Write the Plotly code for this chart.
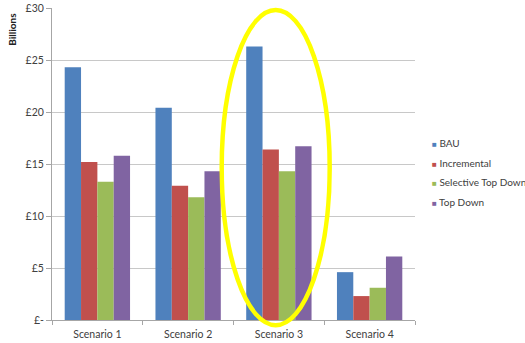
import plotly.graph_objects as go

scenarios = ["Scenario 1", "Scenario 2", "Scenario 3", "Scenario 4"]
bau = [24.3, 20.4, 26.3, 4.6]
incremental = [15.2, 12.9, 16.4, 2.3]
selective_top_down = [13.3, 11.8, 14.3, 3.1]
top_down = [15.8, 14.3, 16.7, 6.1]

tick_vals = [0, 5, 10, 15, 20, 25, 30]
tick_text = ["£-", "£5", "£10", "£15", "£20", "£25", "£30"]

series = [
    ("BAU", bau, "#4F81BD"),
    ("Incremental", incremental, "#C0504D"),
    ("Selective Top Down", selective_top_down, "#9BBB59"),
    ("Top Down", top_down, "#8064A2"),
]

fig = go.Figure()
for name, vals, color in series:
    fig.add_trace(go.Bar(x=scenarios, y=vals, name=name, marker_color=color,
                         marker_line_width=0, showlegend=False))

W, H = 525, 343
ml, mr, mt, mb = 52, 110, 8, 23
ph = H - mt - mb
fig.update_layout(
    width=W, height=H,
    margin=dict(l=ml, r=mr, t=mt, b=mb, pad=0, autoexpand=False),
    paper_bgcolor="white", plot_bgcolor="white",
    barmode="group", bargap=0.28, bargroupgap=0,
    font=dict(family="Lato, Open Sans, sans-serif", size=10.5, color="#404040"),
    showlegend=False,
)
fig.update_xaxes(
    showline=True, linecolor="#A6A6A6", linewidth=1,
    ticks="outside", tickson="boundaries", ticklen=4, tickcolor="#A6A6A6",
    showgrid=False, tickfont=dict(size=10.5), ticklabelstandoff=4,
)
fig.update_yaxes(
    range=[0, 30], tickvals=tick_vals, ticktext=tick_text,
    showline=True, linecolor="#A6A6A6", linewidth=1,
    ticks="outside", ticklen=5, tickcolor="#A6A6A6",
    showgrid=True, gridcolor="#C8C8C8", gridwidth=1,
    tickfont=dict(size=10.5), zeroline=False,
)

fig.add_annotation(text="<b>Billions</b>", textangle=-90, xref="paper", yref="paper",
                   x=-0.11, y=0.99, xanchor="center", yanchor="top", showarrow=False,
                   font=dict(size=10, color="#222222"))

# Legend: small coloured square followed by the series name
legend_top = 143
legend_step = 19.5
for i, (name, vals, color) in enumerate(series):
    ypix = legend_top + i * legend_step
    fig.add_annotation(
        text=f"<span style='color:{color};font-size:8px'>■</span> {name}",
        xref="paper", yref="paper", x=1.04, y=(H - mb - ypix) / ph,
        xanchor="left", yanchor="middle", showarrow=False, align="left",
        font=dict(size=10, color="#404040"),
    )

# Highlight ellipse around Scenario 3, placed in paper coordinates derived from axis scales
def xp(v):
    return (v + 0.5) / len(scenarios)
def yp(v):
    return v / 30.0
fig.add_shape(type="circle", xref="paper", yref="paper",
              x0=xp(1.37), x1=xp(2.56), y0=yp(-0.5), y1=yp(29.8),
              line=dict(color="#FFFF00", width=4.5), fillcolor="rgba(0,0,0,0)")

fig.write_html("out.html")
